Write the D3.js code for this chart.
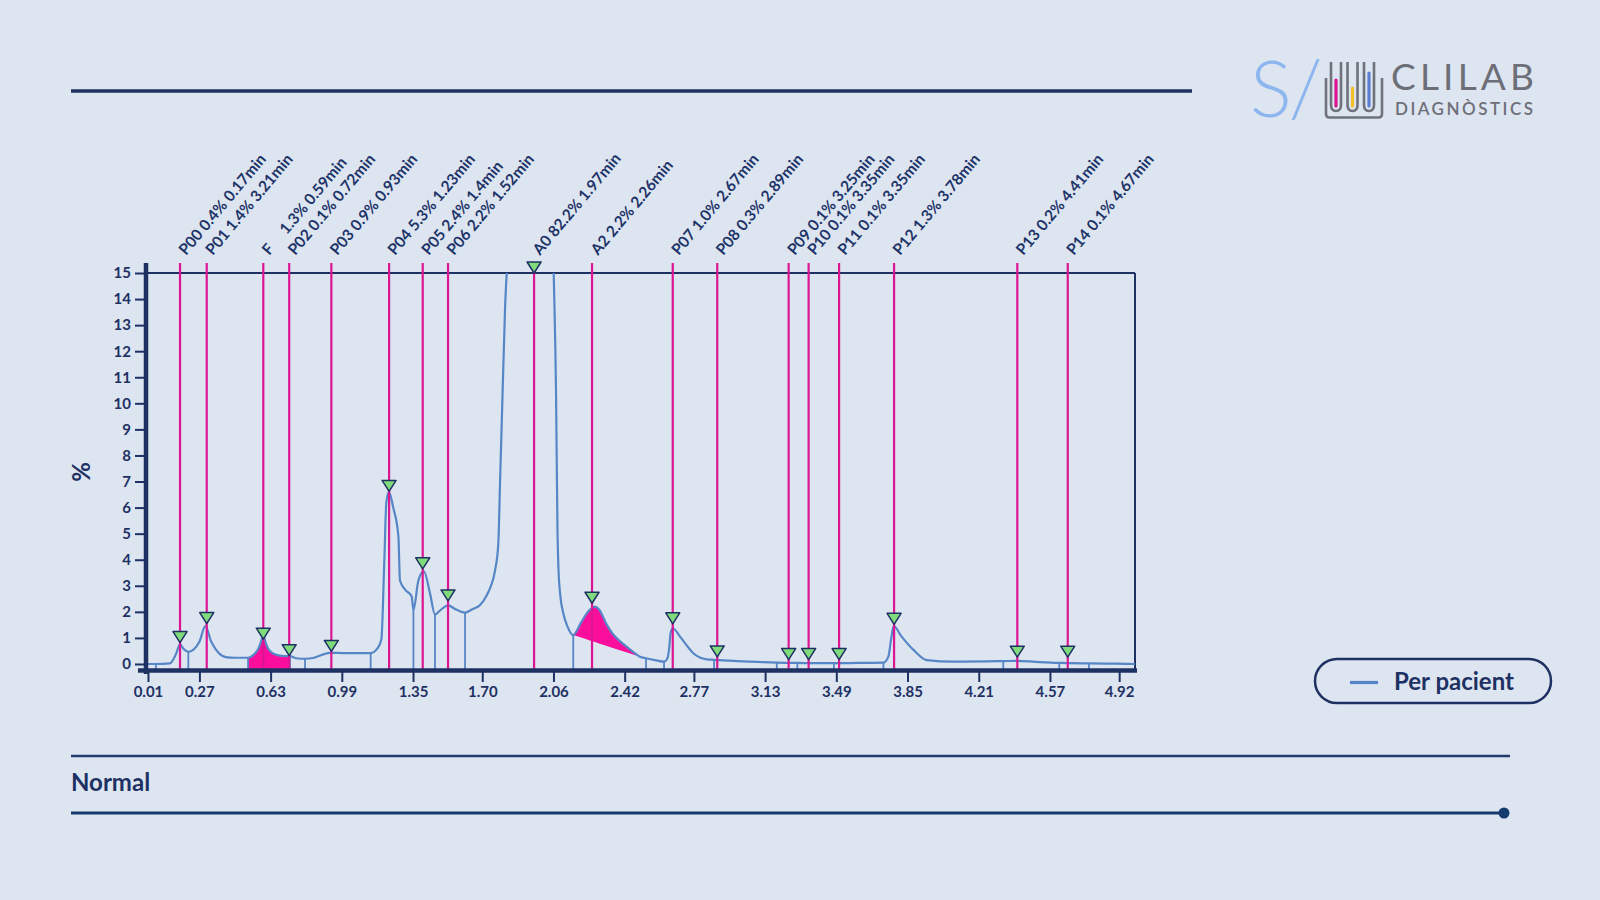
<!DOCTYPE html>
<html><head><meta charset="utf-8">
<script src="https://cdn.jsdelivr.net/npm/d3@7"></script>
<style>
html,body{margin:0;padding:0;background:#dde5f1;}
svg{display:block;font-family:Lato,'Open Sans',sans-serif;}
</style></head><body>
<svg id="c" width="1600" height="900"></svg>
<script>
// ---------- DATA ----------
const peakNames   = ["P00","P01","F    ","P02","P03","P04","P05","P06","A0","A2","P07","P08","P09","P10","P11","P12","P13","P14"];
const peakPercent = ["0.4%","1.4%","1.3%","0.1%","0.9%","5.3%","2.4%","2.2%","82.2%","2.2%","1.0%","0.3%","0.1%","0.1%","0.1%","1.3%","0.2%","0.1%"];
const peakLabelTime = ["0.17","3.21","0.59","0.72","0.93","1.23","1.4","1.52","1.97","2.26","2.67","2.89","3.25","3.35","3.35","3.78","4.41","4.67"];
const peakTimes   = [0.172,0.307,0.593,0.724,0.937,1.229,1.399,1.527,1.962,2.255,2.663,2.888,3.249,3.350,3.504,3.782,4.405,4.660];
const peakHeights = [0.82,1.55,0.95,0.32,0.48,6.62,3.65,2.42,15,2.33,1.54,0.27,0.17,0.17,0.17,1.52,0.26,0.26];

const signalTime = [0.00,0.05,0.12,0.15,0.172,0.19,0.214,0.24,0.27,0.30,0.33,0.37,0.41,0.45,0.516,
  0.545,0.57,0.585,0.593,0.60,0.615,0.64,0.67,0.70,0.728,0.76,0.804,0.85,0.90,0.93,1.00,1.136,1.17,1.19,1.205,1.215,1.228,
  1.25,1.276,1.284,1.31,1.343,1.352,1.377,1.405,1.436,1.461,1.486,1.528,1.56,1.613,1.65,1.689,1.72,1.739,1.765,
  1.781,1.79,1.798,1.815,1.83,1.88,1.95,2.00,2.04,2.06,2.073,2.08,2.085,2.095,2.11,2.13,2.16,2.20,2.24,2.27,
  2.29,2.33,2.36,2.40,2.44,2.47,2.497,2.528,2.58,2.619,2.635,2.645,2.652,2.663,2.70,2.74,2.767,2.80,2.835,2.872,
  2.95,3.05,3.189,3.293,3.40,3.478,3.60,3.728,3.753,3.768,3.78,3.82,3.88,3.947,4.08,4.25,4.334,4.40,4.50,
  4.617,4.767,4.90,5.00];
const signalValue = [0.00,0.00,0.02,0.35,0.75,0.58,0.47,0.55,0.85,1.45,0.85,0.40,0.25,0.24,0.24,
  0.36,0.62,0.95,1.22,0.95,0.62,0.42,0.33,0.30,0.30,0.22,0.20,0.24,0.38,0.43,0.42,0.42,0.60,0.95,4.0,6.2,6.6,
  6.0,4.9,3.2,2.85,2.6,2.07,3.2,3.55,2.7,1.9,2.05,2.25,2.12,1.97,2.1,2.26,2.6,2.9,3.6,
  4.6,7.0,9.1,13.6,16,30,45,40,25,15.5,10.4,5.3,3.7,2.6,1.94,1.45,1.11,1.6,2.05,2.2,
  2.1,1.5,1.15,0.85,0.6,0.42,0.28,0.22,0.14,0.09,0.2,0.6,1.18,1.37,1.05,0.65,0.41,0.25,0.18,0.16,
  0.13,0.09,0.05,0.04,0.03,0.03,0.04,0.05,0.28,1.0,1.45,1.05,0.54,0.15,0.09,0.10,0.11,0.12,0.08,
  0.04,0.02,0.01,0.00];

const boundaryTimes = [0.05,0.214,0.516,0.728,0.804,1.136,1.352,1.461,1.613,2.16,2.528,2.619,2.872,3.189,3.293,3.478,3.728,4.334,4.617,4.767];

const fillRanges = [{from:0.516,to:0.728,type:"drop"},{from:2.16,to:2.497,type:"skim"}];

const xTickValues = [0.01,0.27,0.63,0.99,1.35,1.70,2.06,2.42,2.77,3.13,3.49,3.85,4.21,4.57,4.92];
const yTickValues = [0,1,2,3,4,5,6,7,8,9,10,11,12,13,14,15];

const legendLabel = "Per pacient";
const footerLabel = "Normal";
const yAxisLabel = "%";

// ---------- STYLE ----------
const NAVY = "#1e3163", CURVE = "#5686c6", MAG = "#dc1593", PINK = "#fb0e9c", GREEN = "#7fdb7b";

const svg = d3.select("#c");
const x = d3.scaleLinear().domain([0,5]).range([146,1135]);
const y = d3.scaleLinear().domain([-0.25,15]).range([670.5,273]);

const pts = signalTime.map((t,i)=>({t, v:signalValue[i]}));
function valAt(t){
  for(let i=1;i<pts.length;i++){
    if(t<=pts[i].t){const a=pts[i-1],b=pts[i];const f=(t-a.t)/(b.t-a.t);return a.v+f*(b.v-a.v);}
  }
  return 0;
}

// header line
svg.append("line").attr("x1",71).attr("x2",1192).attr("y1",91).attr("y2",91).attr("stroke","#203262").attr("stroke-width",3.5);

// logo
const logo = svg.append("g");
logo.append("text").attr("x",1250).attr("y",117).attr("font-size",78).attr("font-weight",300).attr("fill","#8db6ef")
  .attr("letter-spacing",-3).text("S/");
const tubeX=[1331,1347.5,1364];
const tubeColor=["#d8148f","#f3c02a","#5b7fd0"];
const tubeFillTop=[80,88,73];
tubeX.forEach((tx,i)=>{
  logo.append("path").attr("d",`M${tx},62 L${tx},105 Q${tx},111 ${tx+5},111 Q${tx+10},111 ${tx+10},105 L${tx+10},62`)
    .attr("fill","none").attr("stroke","#6f717b").attr("stroke-width",2.6).attr("stroke-linejoin","round");
  logo.append("line").attr("x1",tx+5).attr("x2",tx+5).attr("y1",tubeFillTop[i]).attr("y2",106)
    .attr("stroke",tubeColor[i]).attr("stroke-width",3.2).attr("stroke-linecap","round");
});
logo.append("path").attr("d","M1326,78 L1326,114 Q1326,117.5 1329.5,117.5 L1378.5,117.5 Q1382,117.5 1382,114 L1382,78")
  .attr("fill","none").attr("stroke","#6f717b").attr("stroke-width",2.6);
logo.append("text").attr("x",1391).attr("y",90).attr("font-size",37).attr("font-weight",400).attr("fill","#6d6f78")
  .attr("textLength",143).attr("lengthAdjust","spacing").text("CLILAB");
logo.append("text").attr("x",1395).attr("y",115).attr("font-size",17).attr("font-weight",600).attr("fill","#6d6f78")
  .attr("textLength",138).attr("lengthAdjust","spacing").text("DIAGNÒSTICS");

// clip
svg.append("clipPath").attr("id","plotclip").append("rect")
  .attr("x",x(0)).attr("y",y(15)).attr("width",x(5)-x(0)).attr("height",y(-0.25)-y(15));

// frame top & right
svg.append("line").attr("x1",x(0)).attr("x2",x(5)).attr("y1",y(15)).attr("y2",y(15)).attr("stroke",NAVY).attr("stroke-width",2);
svg.append("line").attr("x1",x(5)).attr("x2",x(5)).attr("y1",y(15)).attr("y2",y(-0.25)).attr("stroke",NAVY).attr("stroke-width",2);

// fills
const plot = svg.append("g").attr("clip-path","url(#plotclip)");
fillRanges.forEach(r=>{
  const seg = pts.filter(p=>p.t>=r.from-1e-9 && p.t<=r.to+1e-9);
  const v0=valAt(r.from), v1=valAt(r.to);
  const base = t => r.type==="drop" ? -0.25 : v0 + (t-r.from)/(r.to-r.from)*(v1-v0);
  const area = d3.area().x(d=>x(d.t)).y0(d=>y(base(d.t))).y1(d=>y(d.v)).curve(d3.curveMonotoneX);
  plot.append("path").attr("d",area(seg)).attr("fill",PINK);
});

// boundary ticks
plot.selectAll(".bnd").data(boundaryTimes).join("line")
  .attr("x1",d=>x(d)).attr("x2",d=>x(d)).attr("y1",y(-0.25)).attr("y2",d=>y(valAt(d)))
  .attr("stroke",CURVE).attr("stroke-width",1.8);

// curve
const line = d3.line().x(d=>x(d.t)).y(d=>y(d.v)).curve(d3.curveMonotoneX);
plot.append("path").attr("d",line(pts)).attr("fill","none").attr("stroke",CURVE).attr("stroke-width",2.2);

// magenta peak lines
svg.selectAll(".pk").data(peakTimes).join("line")
  .attr("x1",d=>x(d)).attr("x2",d=>x(d)).attr("y1",263).attr("y2",y(-0.25))
  .attr("stroke",MAG).attr("stroke-width",2.2);

// markers
svg.selectAll(".mk").data(peakTimes).join("path")
  .attr("d","M-7,-11 L7,-11 L0,0 Z")
  .attr("transform",(d,i)=>`translate(${x(d)},${y(peakHeights[i])})`)
  .attr("fill",GREEN).attr("stroke",NAVY).attr("stroke-width",1.5).attr("stroke-linejoin","round");

// axes
svg.append("line").attr("x1",146).attr("x2",146).attr("y1",263).attr("y2",674).attr("stroke",NAVY).attr("stroke-width",4.5);
svg.append("line").attr("x1",138).attr("x2",1137).attr("y1",670.5).attr("y2",670.5).attr("stroke",NAVY).attr("stroke-width",4.5);

const yAxis = d3.axisLeft(y).tickValues(yTickValues).tickSize(9).tickPadding(4).tickFormat(d3.format("d"));
const gy = svg.append("g").attr("transform","translate(144,0)").call(yAxis);
gy.select(".domain").remove();
gy.selectAll("line").attr("stroke",NAVY).attr("stroke-width",2);
gy.selectAll("text").attr("fill",NAVY).attr("font-size",15).attr("font-weight",700).attr("font-family","Lato");

const xAxis = d3.axisBottom(x).tickValues(xTickValues).tickSize(10).tickPadding(4).tickFormat(d3.format(".2f"));
const gx = svg.append("g").attr("transform","translate(0,672)").call(xAxis);
gx.select(".domain").remove();
gx.selectAll("line").attr("stroke",NAVY).attr("stroke-width",2);
gx.selectAll("text").attr("fill",NAVY).attr("font-size",15).attr("font-weight",700).attr("font-family","Lato");

// y label
svg.append("text").attr("transform","translate(90,472) rotate(-90)").attr("text-anchor","middle")
  .attr("font-size",24).attr("font-weight",700).attr("fill",NAVY).text(yAxisLabel);

// peak labels
svg.selectAll(".lab").data(peakTimes).join("text")
  .attr("transform",d=>`translate(${x(d)+6},256) rotate(-50)`)
  .attr("font-size",15.5).attr("font-weight",700).attr("fill","#1d3468")
  .style("white-space","pre")
  .text((d,i)=>`${peakNames[i]} ${peakPercent[i]} ${peakLabelTime[i]}min`);

// legend
svg.append("rect").attr("x",1315).attr("y",659).attr("width",236).attr("height",44).attr("rx",22)
  .attr("fill","none").attr("stroke",NAVY).attr("stroke-width",2.5);
svg.append("line").attr("x1",1350).attr("x2",1378).attr("y1",682.5).attr("y2",682.5).attr("stroke",CURVE).attr("stroke-width",3.2);
svg.append("text").attr("x",1394).attr("y",690).attr("font-size",24).attr("font-weight",700).attr("fill",NAVY).text(legendLabel);

// footer
svg.append("line").attr("x1",71).attr("x2",1510).attr("y1",756).attr("y2",756).attr("stroke","#233a6e").attr("stroke-width",2.6);
svg.append("text").attr("x",71).attr("y",790.5).attr("font-size",24).attr("font-weight",700).attr("fill",NAVY).text(footerLabel);
svg.append("line").attr("x1",71).attr("x2",1504).attr("y1",813).attr("y2",813).attr("stroke","#143a70").attr("stroke-width",3);
svg.append("circle").attr("cx",1504).attr("cy",813).attr("r",5.5).attr("fill","#143a70");
</script>
</body></html>
